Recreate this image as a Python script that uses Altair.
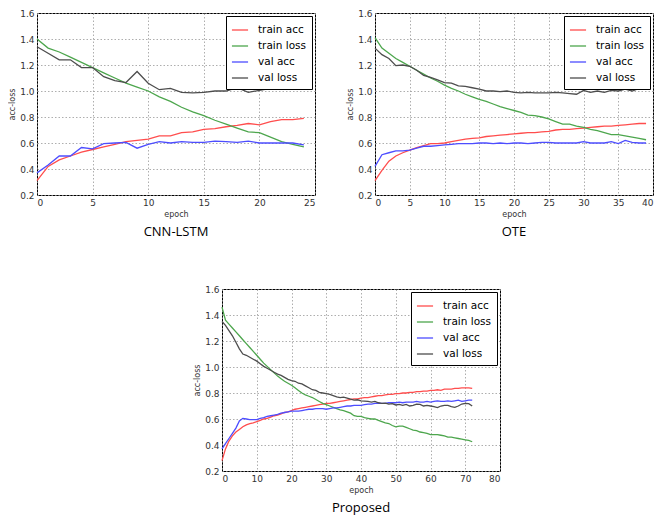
import altair as alt
import pandas as pd

SERIES = ["train acc", "train loss", "val acc", "val loss"]
COLORS = ["#ff4d4d", "#4da64d", "#4d4dff", "#4d4d4d"]

# ---- CNN-LSTM (epochs 0..24)
cnn_train_acc = [0.31, 0.42, 0.47, 0.50, 0.53, 0.55, 0.57, 0.59, 0.61, 0.62, 0.63, 0.655, 0.655,
                 0.68, 0.685, 0.705, 0.71, 0.725, 0.735, 0.75, 0.74, 0.765, 0.78, 0.78, 0.79]
cnn_train_loss = [1.40, 1.33, 1.30, 1.26, 1.22, 1.18, 1.14, 1.10, 1.06, 1.03, 1.00, 0.955, 0.92,
                  0.875, 0.84, 0.81, 0.775, 0.745, 0.715, 0.685, 0.68, 0.645, 0.61, 0.59, 0.57]
cnn_val_acc = [0.37, 0.43, 0.50, 0.50, 0.565, 0.555, 0.595, 0.60, 0.605, 0.56, 0.59, 0.61, 0.60,
               0.61, 0.605, 0.605, 0.615, 0.61, 0.605, 0.615, 0.60, 0.60, 0.60, 0.60, 0.585]
cnn_val_loss = [1.34, 1.29, 1.24, 1.24, 1.18, 1.18, 1.11, 1.08, 1.065, 1.15, 1.06, 1.01, 1.02,
                0.99, 0.985, 0.99, 1.00, 1.00, 1.025, 0.99, 1.005, 1.02, 1.02, 1.015, 1.045]

# ---- OTE (epochs 0..39)
ote_train_acc = [0.31, 0.39, 0.46, 0.50, 0.525, 0.545, 0.565, 0.58, 0.595, 0.595, 0.60, 0.61,
                 0.62, 0.63, 0.635, 0.64, 0.65, 0.655, 0.66, 0.665, 0.67, 0.675, 0.68, 0.68,
                 0.685, 0.69, 0.70, 0.705, 0.705, 0.71, 0.715, 0.72, 0.725, 0.73, 0.73, 0.735,
                 0.74, 0.745, 0.75, 0.75]
ote_train_loss = [1.41, 1.33, 1.29, 1.25, 1.22, 1.19, 1.16, 1.13, 1.10, 1.075, 1.045, 1.02,
                  1.00, 0.975, 0.955, 0.935, 0.92, 0.90, 0.88, 0.865, 0.85, 0.835, 0.815, 0.81,
                  0.80, 0.785, 0.765, 0.745, 0.745, 0.73, 0.72, 0.705, 0.695, 0.68, 0.665, 0.665,
                  0.655, 0.645, 0.635, 0.625]
ote_val_acc = [0.42, 0.51, 0.525, 0.54, 0.54, 0.545, 0.56, 0.575, 0.575, 0.58, 0.585, 0.59,
               0.595, 0.595, 0.595, 0.60, 0.60, 0.595, 0.60, 0.595, 0.60, 0.60, 0.595, 0.60,
               0.605, 0.605, 0.60, 0.60, 0.60, 0.60, 0.61, 0.60, 0.60, 0.60, 0.61, 0.595,
               0.62, 0.605, 0.60, 0.60]
ote_val_loss = [1.33, 1.28, 1.25, 1.195, 1.20, 1.19, 1.16, 1.12, 1.105, 1.085, 1.065, 1.06,
                1.04, 1.035, 1.025, 1.015, 1.00, 1.00, 0.995, 1.00, 0.99, 0.985, 0.99, 0.985,
                0.985, 0.985, 0.99, 0.985, 0.98, 0.975, 1.005, 0.99, 1.00, 0.99, 1.005, 1.00,
                1.015, 1.00, 1.02, 1.03]

# ---- Proposed (epochs 0..72)
pro_train_acc = [0.28, 0.37, 0.43, 0.47, 0.50, 0.52, 0.54, 0.555, 0.565, 0.57, 0.58, 0.59,
                 0.60, 0.605, 0.615, 0.625, 0.63, 0.64, 0.65, 0.655, 0.665, 0.675, 0.68, 0.685,
                 0.69, 0.695, 0.70, 0.705, 0.71, 0.715, 0.72, 0.72, 0.725, 0.73, 0.735, 0.74,
                 0.745, 0.75, 0.755, 0.755, 0.76, 0.765, 0.765, 0.77, 0.775, 0.78, 0.78, 0.785,
                 0.79, 0.79, 0.795, 0.795, 0.80, 0.80, 0.805, 0.805, 0.81, 0.81, 0.815, 0.815,
                 0.82, 0.82, 0.825, 0.82, 0.83, 0.83, 0.83, 0.835, 0.835, 0.84, 0.84, 0.84, 0.835]
pro_train_loss = [1.46, 1.36, 1.33, 1.30, 1.27, 1.24, 1.21, 1.18, 1.15, 1.12, 1.09, 1.06,
                  1.03, 1.005, 0.98, 0.955, 0.93, 0.91, 0.89, 0.875, 0.86, 0.84, 0.82, 0.80,
                  0.785, 0.775, 0.765, 0.75, 0.735, 0.72, 0.71, 0.70, 0.69, 0.68, 0.67, 0.665,
                  0.655, 0.645, 0.625, 0.62, 0.62, 0.61, 0.605, 0.60, 0.60, 0.59, 0.58, 0.57,
                  0.565, 0.55, 0.54, 0.545, 0.545, 0.535, 0.525, 0.515, 0.51, 0.50, 0.495, 0.49,
                  0.48, 0.48, 0.48, 0.475, 0.47, 0.46, 0.46, 0.455, 0.45, 0.445, 0.44, 0.435, 0.425]
pro_val_acc = [0.37, 0.41, 0.45, 0.49, 0.53, 0.585, 0.605, 0.60, 0.595, 0.595, 0.595, 0.605,
               0.61, 0.62, 0.625, 0.63, 0.635, 0.645, 0.65, 0.655, 0.66, 0.66, 0.66, 0.665,
               0.67, 0.675, 0.675, 0.68, 0.68, 0.68, 0.675, 0.68, 0.685, 0.685, 0.69, 0.695,
               0.70, 0.70, 0.705, 0.705, 0.705, 0.71, 0.715, 0.715, 0.72, 0.72, 0.72, 0.72,
               0.725, 0.725, 0.725, 0.73, 0.725, 0.73, 0.73, 0.73, 0.735, 0.73, 0.73, 0.735,
               0.73, 0.735, 0.74, 0.735, 0.735, 0.74, 0.735, 0.74, 0.745, 0.735, 0.74, 0.745, 0.745]
pro_val_loss = [1.35, 1.32, 1.28, 1.24, 1.19, 1.14, 1.10, 1.09, 1.075, 1.06, 1.045, 1.025,
                1.005, 0.99, 0.975, 0.96, 0.945, 0.935, 0.92, 0.905, 0.895, 0.89, 0.875, 0.87,
                0.855, 0.84, 0.825, 0.82, 0.805, 0.80, 0.795, 0.79, 0.78, 0.77, 0.765, 0.768,
                0.76, 0.752, 0.745, 0.748, 0.74, 0.738, 0.735, 0.73, 0.735, 0.725, 0.72, 0.722,
                0.715, 0.718, 0.708, 0.712, 0.705, 0.712, 0.70, 0.705, 0.715, 0.712, 0.70, 0.705,
                0.70, 0.695, 0.688, 0.70, 0.705, 0.705, 0.695, 0.69, 0.70, 0.715, 0.72, 0.718, 0.70]

Y_TICKS = [0.2, 0.4, 0.6, 0.8, 1.0, 1.2, 1.4, 1.6]

W, H = 278, 182


def make_df(lists):
    rows = []
    for name, vals in zip(SERIES, lists):
        for i, v in enumerate(vals):
            rows.append({"epoch": i, "value": v, "series": name})
    return pd.DataFrame(rows)


def panel(lists, xmax, xstep, caption):
    df = make_df(lists)
    return alt.Chart(df).mark_line(strokeWidth=1.3).encode(
        x=alt.X("epoch:Q",
                scale=alt.Scale(domain=[0, xmax], nice=False),
                axis=alt.Axis(title="epoch", values=list(range(0, xmax + 1, xstep)),
                              format="d")),
        y=alt.Y("value:Q",
                scale=alt.Scale(domain=[0.2, 1.6], nice=False, zero=False),
                axis=alt.Axis(title="acc-loss", values=Y_TICKS, format=".1f")),
        color=alt.Color("series:N",
                        scale=alt.Scale(domain=SERIES, range=COLORS),
                        sort=SERIES,
                        legend=alt.Legend(title=None, orient="top-right")),
        detail="series:N",
    ).properties(
        width=W, height=H,
        title=alt.TitleParams(caption, orient="bottom", font="Open Sans", fontSize=13,
                              fontWeight="normal", color="#000", offset=8),
    )


c1 = panel([cnn_train_acc, cnn_train_loss, cnn_val_acc, cnn_val_loss], 25, 5, "CNN-LSTM")
c2 = panel([ote_train_acc, ote_train_loss, ote_val_acc, ote_val_loss], 40, 5, "OTE")
c3 = panel([pro_train_acc, pro_train_loss, pro_val_acc, pro_val_loss], 80, 10, "Proposed")

spacer = alt.Chart(pd.DataFrame({"s": [0]})).mark_point(opacity=0).properties(
    width=156, height=10, view=alt.ViewBackground(stroke=None)
)

top = alt.hconcat(c1, c2, spacing=30).resolve_scale(color="independent")
bottom = alt.hconcat(spacer, c3, spacing=0).resolve_scale(color="independent")

chart = alt.vconcat(top, bottom, spacing=44).resolve_scale(color="independent").properties(
    padding=0
).configure(
    font="DejaVu Sans"
).configure_view(
    stroke="#000", strokeWidth=1
).configure_axis(
    labelFontSize=9, labelColor="#333", labelFont="DejaVu Sans",
    titleFontSize=8, titleFontWeight="normal", titleColor="#333", titleFont="DejaVu Sans",
    grid=True, gridColor="#999", gridDash=[1.5, 2], gridWidth=0.8,
    ticks=False, domain=False, labelPadding=3,
).configure_axisX(
    titlePadding=3
).configure_axisY(
    titlePadding=3
).configure_legend(
    strokeColor="#000", fillColor="#fff", padding=5, offset=3,
    labelFontSize=10.5, labelColor="#000", labelFont="DejaVu Sans",
    symbolType="stroke", symbolSize=260, symbolStrokeWidth=1.3,
    rowPadding=1, labelOffset=9, cornerRadius=0,
)

chart.save("out.html", embed_options={"renderer": "svg", "actions": False})
